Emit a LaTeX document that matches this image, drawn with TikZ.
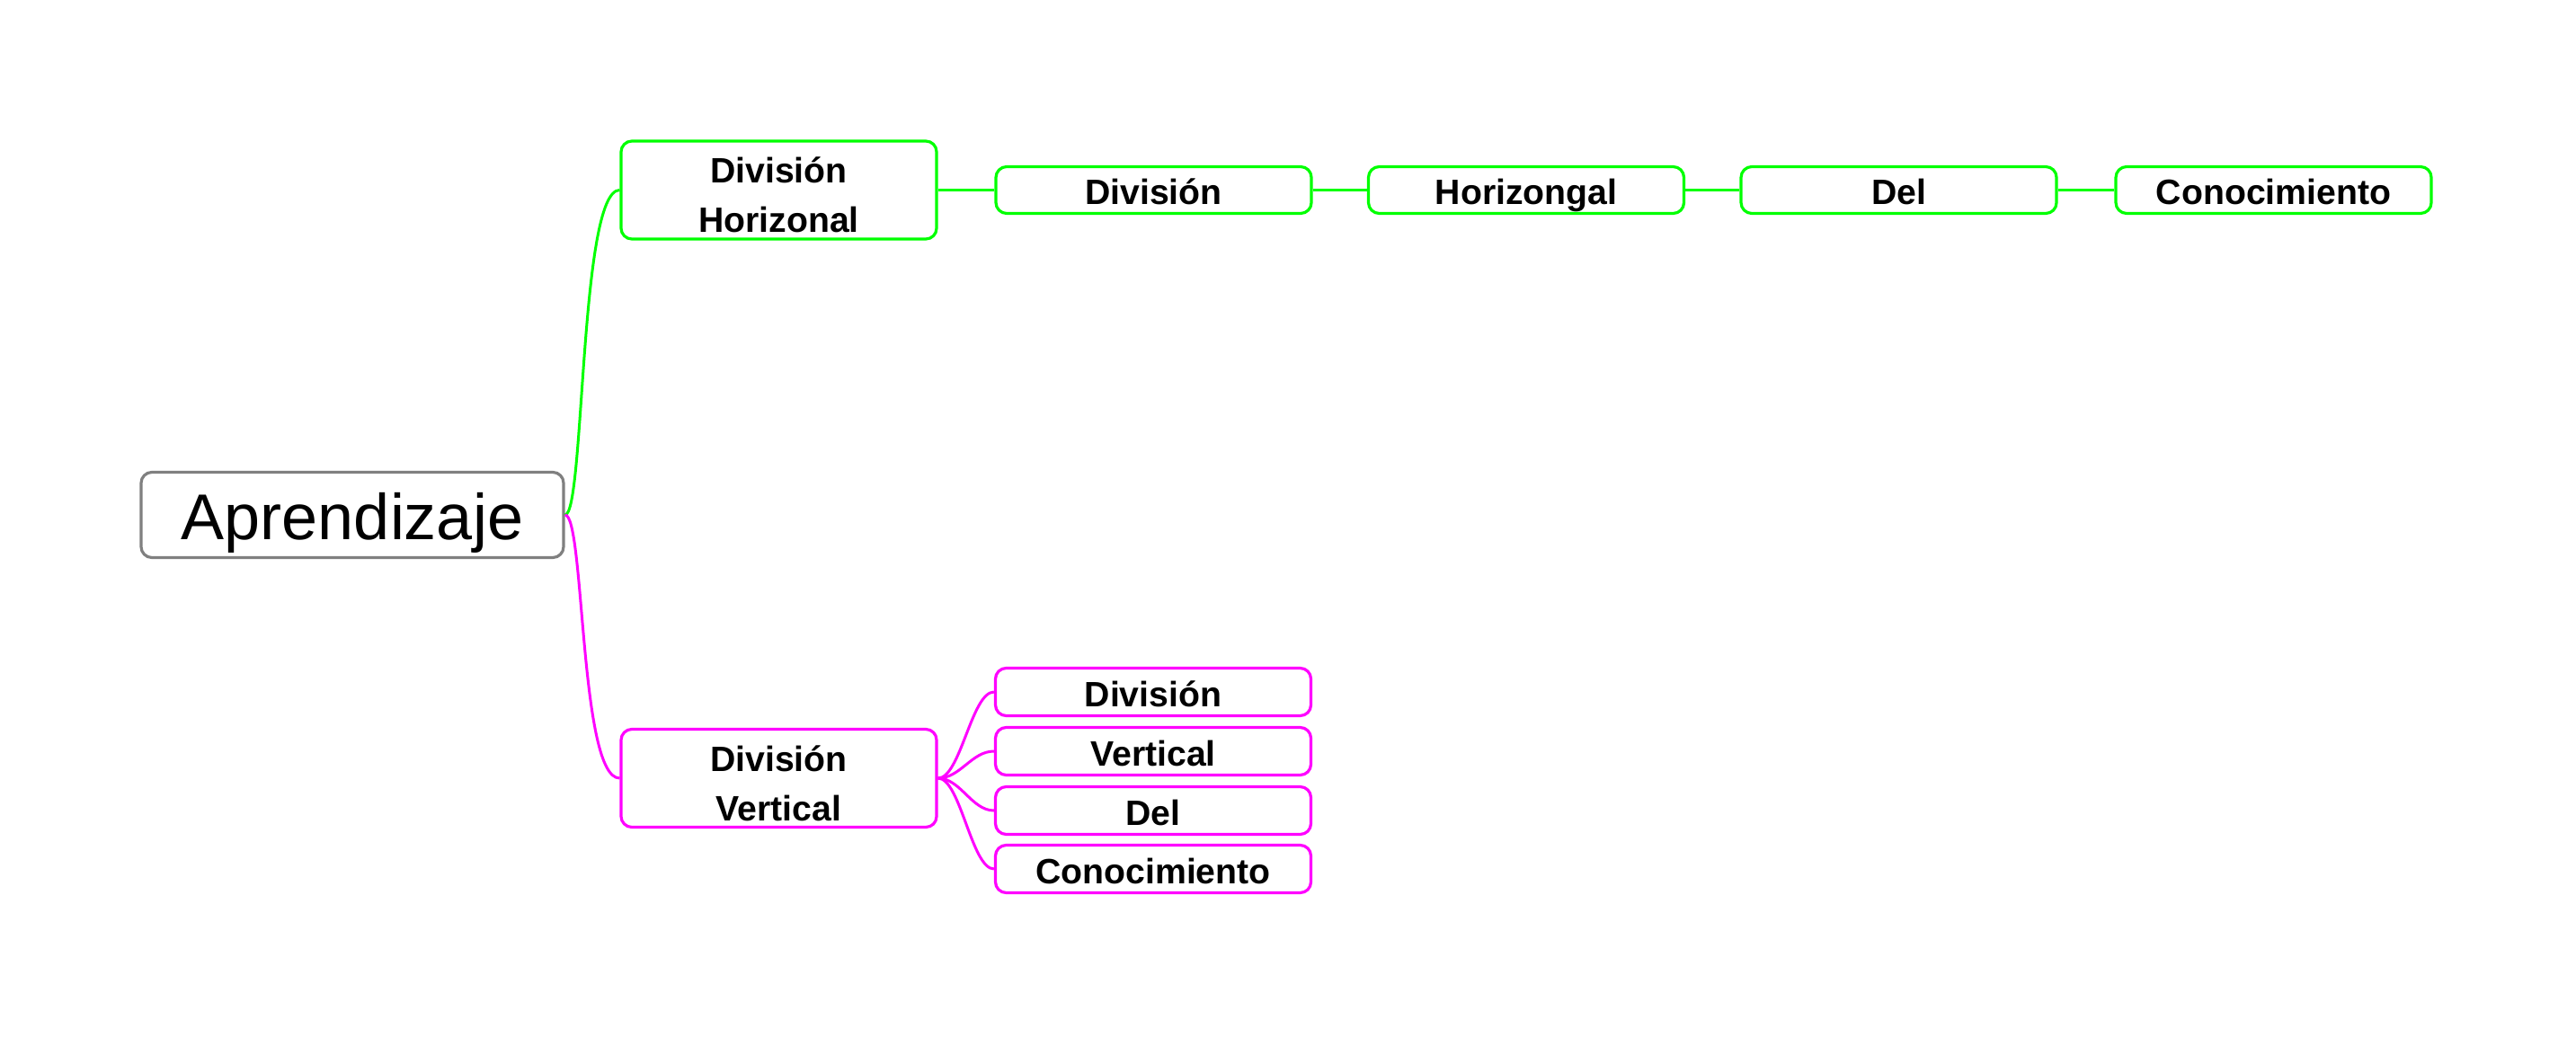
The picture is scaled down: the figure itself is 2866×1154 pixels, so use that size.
\documentclass[tikz,border=0pt]{standalone}
\usepackage{fontspec}
\setmainfont{Liberation Sans}
\usepackage{tikz}

\definecolor{mmgreen}{RGB}{0,255,0}
\definecolor{mmmagenta}{RGB}{255,0,255}
\definecolor{mmgray}{RGB}{128,128,128}

\begin{document}
\begin{tikzpicture}[x=0.25pt, y=-0.25pt,
    every node/.style={inner sep=0pt, align=center},
    rootbox/.style={draw=mmgray, line width=0.8pt, rounded corners=3pt, minimum width=117.5pt, minimum height=23.75pt, text height=13.9pt, text depth=0pt, font=\fontsize{18}{21}\selectfont},
    grbox/.style={draw=mmgreen, line width=0.8pt, rounded corners=3pt, minimum width=87.75pt, font=\fontsize{9.8}{13.75}\selectfont\bfseries},
    mgbox/.style={grbox, draw=mmmagenta},
    twoline/.style={minimum height=27.25pt, text height=23.7pt, text depth=0pt},
    oneline/.style={text height=8.5pt, text depth=0.5pt},
    grlink/.style={draw=mmgreen, line width=0.75pt},
    mglink/.style={draw=mmmagenta, line width=0.75pt}]
    \useasboundingbox (0,0) rectangle (2866,1154);

    \node[rootbox] (root) at (392,573) {Aprendizaje};

    \node[grbox, twoline] (dh) at (866.5,211.5) {División\\Horizonal};
    \node[mgbox, twoline] (dv) at (866.5,866) {División\\Vertical};

    \draw[grlink] (root.east) .. controls +(22,0) and +(-45,0) .. (dh.west);
    \draw[mglink] (root.east) .. controls +(22,0) and +(-45,0) .. (dv.west);

    % horizontal chain
    \foreach \n/\x/\t in {h1/1283.5/División,h2/1698/Horizongal,h3/2112.5/Del,h4/2529.5/Conocimiento}
        \node[grbox, oneline, minimum height=13pt] (\n) at (\x,211.5) {\t};
    \draw[grlink] (dh.east) -- (h1.west);
    \foreach \a/\b in {h1/h2,h2/h3,h3/h4}
        \draw[grlink] (\a.east) -- (\b.west);

    % vertical stack
    \foreach \n/\y/\t in {v1/770/División,v2/836/Vertical,v3/902/Del,v4/967/Conocimiento}
        \node[mgbox, oneline, minimum height=13.25pt] (\n) at (1283,\y) {\t};
    \foreach \n in {v1,v2,v3,v4}
        \draw[mglink] (dv.east) .. controls +(25,0) and +(-25,0) .. (\n.west);
\end{tikzpicture}
\end{document}
